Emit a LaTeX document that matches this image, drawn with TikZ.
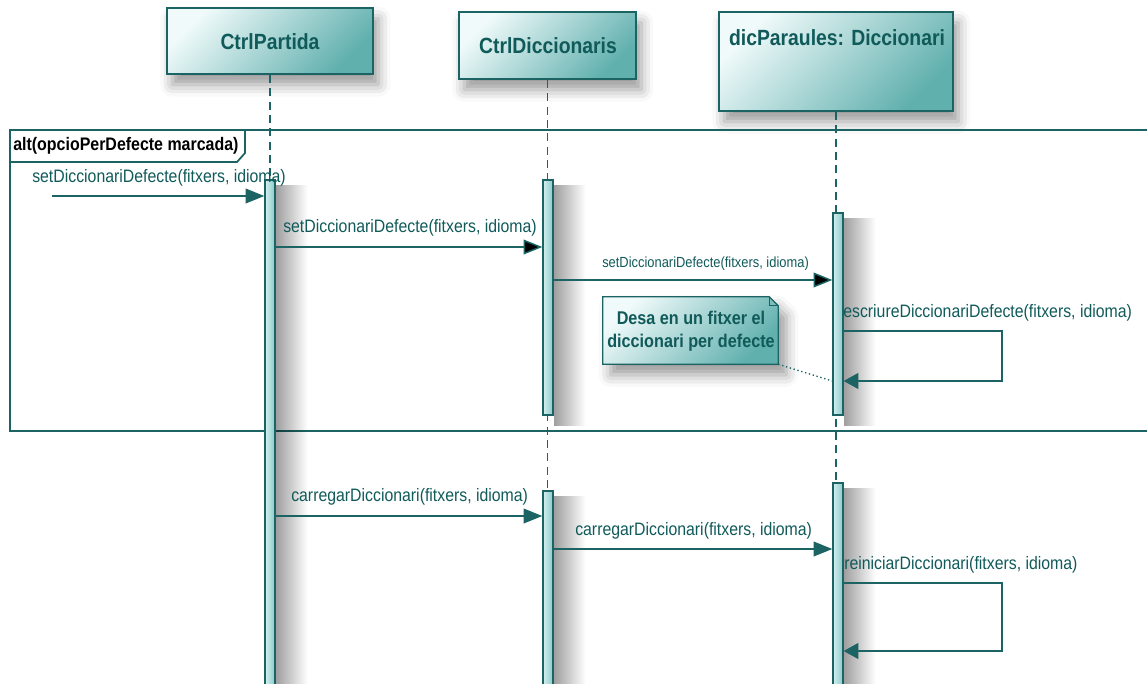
\documentclass[tikz,border=0pt]{standalone}
\usepackage{fontspec}
\setmainfont{Liberation Sans}[FakeStretch=0.88]
\usetikzlibrary{arrows.meta,fit,shadows.blur,calc,fadings}
\definecolor{umlline}{RGB}{28,100,100}
\definecolor{umltext}{RGB}{16,90,90}
\definecolor{boxlight}{RGB}{240,250,250}
\definecolor{boxdark}{RGB}{96,176,174}
\definecolor{barlight}{RGB}{212,239,239}
\definecolor{bardark}{RGB}{138,200,200}
\begin{document}
\begin{tikzpicture}[x=0.75pt,y=-0.75pt,
  lifebox/.style={draw=umlline, line width=1.3pt, top color=boxlight, bottom color=boxdark,
    shading angle=45, inner sep=0pt,
    blur shadow={shadow xshift=4pt, shadow yshift=-8pt, shadow blur radius=9pt, shadow opacity=40}},
  title/.style={font=\bfseries\fontsize{16.5}{19}\selectfont, text=umltext, inner sep=0pt},
  lifeline/.style={draw=umlline, line width=1.1pt, dash pattern=on 6pt off 4pt},
  actbar/.style={draw=umlline, line width=1pt, left color=barlight, right color=bardark, inner sep=0pt},
  barshadow/.style={fill=black, fill opacity=0.38, path fading=east},
  msg/.style={draw=umlline, line width=1.1pt, -{Triangle[length=14pt,width=11pt]}},
  darkhead/.style={-{Triangle[length=14pt,width=11pt,fill=black]}},
  selfmsg/.style={draw=umlline, line width=0.9pt, -{Triangle[length=11pt,width=12pt]}},
  msglabel/.style={font=\fontsize{13.5}{16}\selectfont, text=umltext, inner sep=0pt, anchor=west},
  smalllabel/.style={font=\fontsize{11}{13}\selectfont, text=umltext, inner sep=0pt, anchor=west},
  frameline/.style={draw=umlline, line width=1.3pt},
  notebox/.style={draw=umlline, line width=1pt, top color=boxlight, bottom color=boxdark, shading angle=45,
    blur shadow={shadow xshift=6pt, shadow yshift=-8pt, shadow blur radius=9pt, shadow opacity=40}},
  notetext/.style={font=\bfseries\fontsize{13.8}{17}\selectfont, text=umltext, align=center, inner sep=0pt},
  notelink/.style={draw=umlline, line width=1pt, dotted}
]
\useasboundingbox (0,0) rectangle (1147,683);

% reference rows
\coordinate (bottom) at (0,690);
\coordinate (y1) at (0,196);
\coordinate (y2) at (0,247);
\coordinate (y3) at (0,280);
\coordinate (s1a) at (0,331);
\coordinate (s1b) at (0,381);
\coordinate (y4) at (0,516);
\coordinate (y5) at (0,549);
\coordinate (s2a) at (0,583);
\coordinate (s2b) at (0,651);
\coordinate (loopx) at (1002,0);
\coordinate (m1start) at (52,196);

% participants
\node[lifebox, fit={(167,8) (373,74)}] (cp) {};
\node[lifebox, fit={(459,12) (636,79)}] (cd) {};
\node[lifebox, fit={(719,12) (953,111)}] (dp) {};
\node[title] (cpt) at (270,42) {CtrlPartida};
\node[title] (cdt) at (548,46) {CtrlDiccionaris};
\node[title] (dpt) at (837,38) {dicParaules: Diccionari};

% lifelines
\draw[lifeline] (cp.south) -- (cp.south |- bottom);
\draw[lifeline] (cd.south) -- (cd.south |- bottom);
\draw[lifeline] (dp.south) -- (dp.south |- bottom);

% alt combined fragment
\draw[frameline] (10,130) rectangle (1160,431);
\draw[frameline] (10,162) -- (237,162) -- (245,153) -- (245,130);
\node[font=\bfseries\fontsize{13.6}{16}\selectfont, text=black, inner sep=0pt, anchor=west] (altlab) at (13,146) {alt(opcioPerDefecte marcada)};

% activation bars
\node[actbar, fit={(265,180) (275,690)}] (pa) {};
\node[actbar, fit={(543,180) (553,415)}] (cd1) {};
\node[actbar, fit={(543,491) (553,690)}] (cd2) {};
\node[actbar, fit={(833,213) (843,415)}] (dp1) {};
\node[actbar, fit={(833,483) (843,690)}] (dp2) {};

% soft shadows to the right of the bars
\foreach \b in {pa,cd1,cd2,dp1,dp2}
  \path[barshadow] ($(\b.north east)+(0,6)$) rectangle ($(\b.south east)+(32,10)$);

% messages inside the alt fragment
\draw[msg] (m1start) -- (pa.west |- y1);
\node[msglabel] (l1) at (32,178) {setDiccionariDefecte(fitxers, idioma)};
\draw[msg, darkhead] (pa.east |- y2) -- (cd1.west |- y2);
\node[msglabel] (l2) at (283,228) {setDiccionariDefecte(fitxers, idioma)};
\draw[msg, darkhead] (cd1.east |- y3) -- (dp1.west |- y3);
\node[smalllabel] (l3) at (602,264) {setDiccionariDefecte(fitxers, idioma)};
\draw[selfmsg] (dp1.east |- s1a) -- (loopx |- s1a) -- (loopx |- s1b) -- (dp1.east |- s1b);
\node[msglabel] (l4) at (843,313) {escriureDiccionariDefecte(fitxers, idioma)};

% note attached to the self call
\node[fit={(603,297) (778,364)}, inner sep=0pt] (note) {};
\path[notebox] (note.north west) -- ($(note.north east)+(-9,0)$) -- ($(note.north east)+(0,9)$)
  -- (note.south east) -- (note.south west) -- cycle;
\draw[umlline, line width=0.8pt] ($(note.north east)+(-9,0)$) -- ($(note.north east)+(-9,9)$) -- ($(note.north east)+(0,9)$);
\node[notetext] (nt) at (691,331) {Desa en un fitxer el\\diccionari per defecte};
\draw[notelink] (note.south east) -- (dp1.west |- s1b);

% messages after the fragment
\draw[msg] (pa.east |- y4) -- (cd2.west |- y4);
\node[msglabel] (l5) at (291,497) {carregarDiccionari(fitxers, idioma)};
\draw[msg] (cd2.east |- y5) -- (dp2.west |- y5);
\node[msglabel] (l6) at (575,531) {carregarDiccionari(fitxers, idioma)};
\draw[selfmsg] (dp2.east |- s2a) -- (loopx |- s2a) -- (loopx |- s2b) -- (dp2.east |- s2b);
\node[msglabel] (l7) at (844,565) {reiniciarDiccionari(fitxers, idioma)};
\end{tikzpicture}
\end{document}
